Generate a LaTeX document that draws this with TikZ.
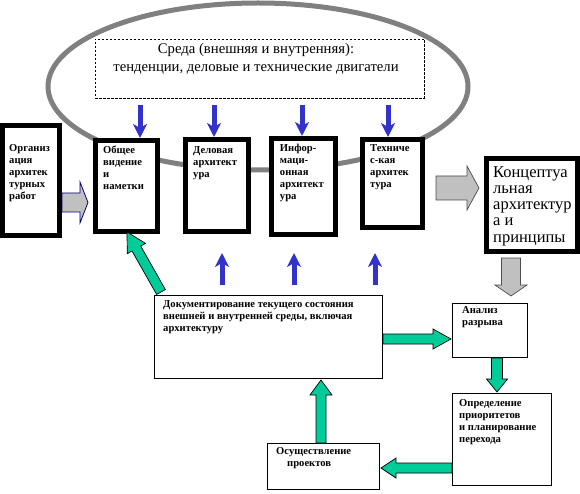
\documentclass[tikz,border=0pt]{standalone}
\usepackage{fontspec}
\setmainfont{Liberation Serif}
\usetikzlibrary{calc,arrows.meta}
\definecolor{ellgray}{RGB}{128,128,128}
\definecolor{arrblue}{RGB}{51,51,204}
\definecolor{arrgreen}{RGB}{0,204,153}
\definecolor{arrgray}{RGB}{192,192,192}
\definecolor{navyline}{RGB}{0,0,128}
\newcommand\barrow[6]{%
  \path let \p1=(#1), \p2=(#2) in \pgfextra{%
    \pgfmathsetmacro\bAtmp{atan2(\y2-\y1,\x2-\x1)}%
    \pgfmathsetmacro\bLtmp{veclen(\x2-\x1,\y2-\y1)}%
    \xdef\bA{\bAtmp}\xdef\bL{\bLtmp}\xdef\bX{\x1}\xdef\bY{\y1}};
  \begin{scope}[shift={(\bX,\bY)},rotate=\bA]
    \filldraw[#6] (0,-#3) -- ({\bL-#5},-#3) -- ({\bL-#5},-#4) -- (\bL,0)
      -- ({\bL-#5},#4) -- ({\bL-#5},#3) -- (0,#3) -- cycle;
  \end{scope}}
\tikzset{
  thickbox/.style={draw=black, line width=5pt, fill=white, inner sep=0pt},
  thinbox/.style={draw=black, line width=1pt, fill=white, inner sep=0pt},
  dashbox/.style={draw=black, line width=0.7pt, dash pattern=on 2.5pt off 1.5pt, inner sep=0pt},
  boxtext/.style={anchor=north west, inner sep=0pt, align=left,
    font=\fontsize{10.6}{12}\selectfont\bfseries, execute at begin node=\strut},
  bigtext/.style={anchor=north west, inner sep=0pt, align=left,
    font=\fontsize{16.5}{16.3}\selectfont, execute at begin node=\strut},
  envtext/.style={anchor=north, inner sep=0pt, align=center,
    font=\fontsize{14.7}{18}\selectfont, execute at begin node=\strut},
  bluearr/.style={draw=arrblue, line width=5pt,
    -{Stealth[length=14pt,width=14pt,inset=4pt]}},
  greenarr/.style={fill=arrgreen, draw=black, line width=0.7pt},
  grayarr/.style={fill=arrgray, draw=black!70, line width=0.7pt},
  grayarrnavy/.style={fill=arrgray, draw=navyline, line width=0.8pt},
}
\begin{document}
\begin{tikzpicture}[x=1pt,y=-1pt]
\useasboundingbox (0,0) rectangle (580,494);
% environment ellipse
\draw[ellgray, line width=5pt] (258,86.5) ellipse [x radius=210pt, y radius=83.5pt];
% dashed environment box
\node[dashbox, minimum width=329pt, minimum height=59pt] (env) at (259.5,68.5) {};
\node[envtext] (envt) at ($(env.north)+(-3.5,4.2)$)
  {Среда (внешняя и внутренняя):\\тенденции, деловые и технические двигатели};
% thick boxes
\node[thickbox, minimum width=57pt, minimum height=110pt] (b1) at (31,180.5) {};
\node[thickbox, minimum width=62pt, minimum height=91pt] (b2) at (126.5,186) {};
\node[thickbox, minimum width=63pt, minimum height=92pt] (b3) at (217,185.5) {};
\node[thickbox, minimum width=64.5pt, minimum height=96pt] (b4) at (303.5,186.5) {};
\node[thickbox, minimum width=60pt, minimum height=88pt] (b5) at (392.5,183.5) {};
\node[thickbox, minimum width=91pt, minimum height=93pt] (b6) at (532,205) {};
\node[boxtext] (b1t) at ($(b1.north west)+(9,21.6)$) {Организ\\ация\\архитек\\турных\\работ};
\node[boxtext] (b2t) at ($(b2.north west)+(10,7.6)$) {Общее\\видение\\и\\наметки};
\node[boxtext] (b3t) at ($(b3.north west)+(10,9)$) {Деловая\\архитект\\ура};
\node[boxtext] (b4t) at ($(b4.north west)+(11,8)$) {Инфор-\\маци-\\онная\\архитект\\ура};
\node[boxtext] (b5t) at ($(b5.north west)+(10,7)$) {Техниче\\с-кая\\архитек\\тура};
\node[bigtext] (b6t) at ($(b6.north west)+(9,10)$) {Концептуа\\льная\\архитектур\\а и\\принципы};
% thin boxes
\node[thinbox, minimum width=228pt, minimum height=83pt] (doc) at (268.5,337) {};
\node[thinbox, minimum width=75pt, minimum height=54pt] (an) at (490,330.5) {};
\node[thinbox, minimum width=99pt, minimum height=92pt] (opr) at (502,439.5) {};
\node[thinbox, minimum width=112pt, minimum height=46pt] (osu) at (323.5,466.5) {};
\node[boxtext] (doct) at ($(doc.north west)+(9,5)$)
  {Документирование текущего состояния\\внешней и внутренней среды, включая\\архитектуру};
\node[boxtext] (ant) at ($(an.north west)+(10,3)$) {Анализ\\разрыва};
\node[boxtext] (oprt) at ($(opr.north west)+(7,6)$)
  {Определение\\приоритетов\\и планирование\\перехода};
\node[boxtext] (osut) at ($(osu.north west)+(9,4)$) {Осуществление\\\hspace*{11pt}проектов};
% blue arrows down
\draw[bluearr] ($(b2.north)+(13.5,-33)$) -- ($(b2.north)+(13.5,0)$);
\draw[bluearr] ($(b3.north)+(-3,-32)$) -- ($(b3.north)+(-3,0)$);
\draw[bluearr] ($(b4.north)+(-1.5,-31)$) -- ($(b4.north)+(-1.5,0)$);
\draw[bluearr] ($(b5.north)+(-4.5,-32)$) -- ($(b5.north)+(-4.5,0)$);
% blue arrows up
\draw[bluearr] ($(doc.north west)+(68,-10)$) -- ($(doc.north west)+(68,-42)$);
\draw[bluearr] ($(doc.north west)+(140,-10)$) -- ($(doc.north west)+(140,-42)$);
\draw[bluearr] ($(doc.north west)+(221,-10)$) -- ($(doc.north west)+(221,-42)$);
% gray block arrows
\barrow{$(b1.east)+(0,22)$}{$(b2.west)+(-5,16.5)$}{9.5}{20.5}{8}{grayarrnavy}
\barrow{$(b5.east)+(11,4.5)$}{$(b6.west)+(-5,-17)$}{12}{22}{12}{grayarr}
\barrow{$(b6.south)+(-21,4)$}{$(an.north)+(21,-7)$}{9.5}{16}{11}{grayarr}
% green block arrows
\barrow{$(doc.east)+(0,2)$}{$(an.west)+(-1,8.5)$}{5}{10}{18}{greenarr}
\barrow{$(an.south)+(7,0)$}{$(opr.north)+(-5,-1)$}{5.5}{10.5}{13}{greenarr}
\barrow{$(opr.west)+(0,28.5)$}{$(osu.east)+(1,1.5)$}{5}{10}{15}{greenarr}
\barrow{$(osu.north)+(-2.5,0)$}{$(doc.south)+(52.5,1)$}{5}{11}{15}{greenarr}
\barrow{$(doc.north west)+(7,-3)$}{$(b2.south)+(0.5,-2)$}{5}{10.5}{19}{greenarr}
\end{tikzpicture}
\end{document}
